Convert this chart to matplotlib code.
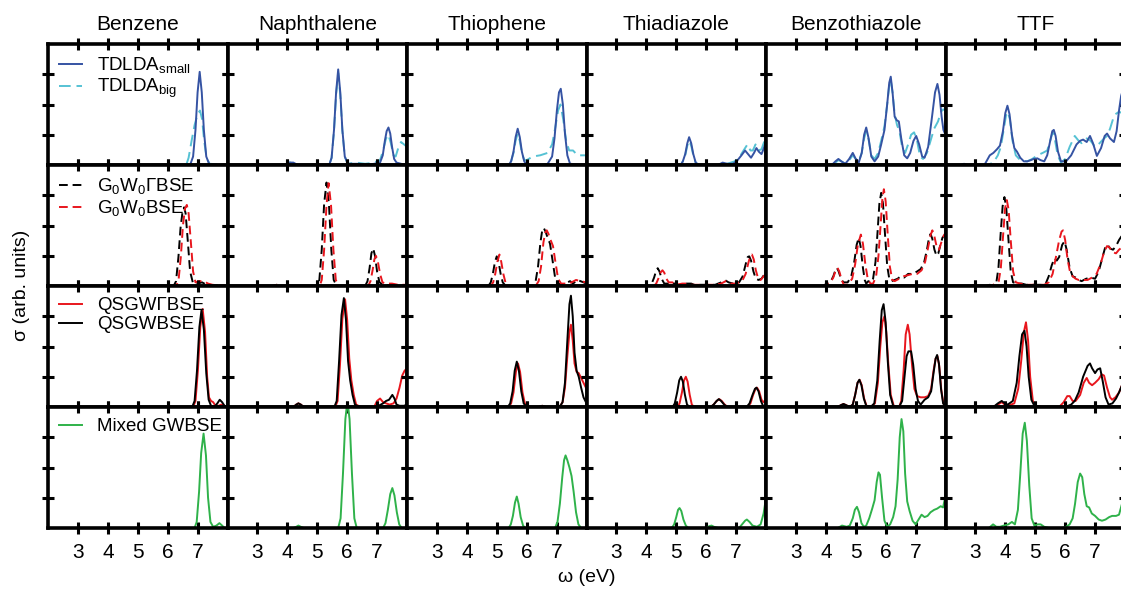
import matplotlib
matplotlib.use("Agg")
import matplotlib.pyplot as plt

plt.rcParams['font.family'] = ['Liberation Sans', 'DejaVu Sans']
plt.rcParams['mathtext.default'] = 'regular'

molecules = ["Benzene", "Naphthalene", "Thiophene", "Thiadiazole", "Benzothiazole", "TTF"]
xticks = [3, 4, 5, 6, 7]
yticks = [0.25, 0.5, 0.75]

# ---- row 1: TDLDA (small = solid blue, big = dashed cyan) ----
td_small_benzene = [(2,0),(6.75,0),(6.85,0.07),(6.93,0.29),(7.0,0.6),(7.07,0.77),(7.14,0.6),(7.21,0.29),(7.29,0.07),(7.4,0),(8,0)]
td_big_benzene = [(2,0),(6.62,0),(6.7,0.06),(6.8,0.2),(6.9,0.33),(7.0,0.42),(7.08,0.45),(7.15,0.38),(7.22,0.2),(7.3,0.06),(7.4,0.01),(8,0)]
td_small_naph = [(2,0),(3.9,0),(4.05,0.02),(4.2,0.02),(4.35,0),(5.4,0),(5.48,0.06),(5.56,0.29),(5.63,0.6),(5.7,0.79),(5.77,0.6),(5.84,0.29),(5.92,0.07),(6.02,0.01),(6.4,0.01),(6.6,0),(6.9,0.01),(7.1,0.02),(7.19,0.08),(7.26,0.2),(7.32,0.28),(7.38,0.31),(7.44,0.26),(7.5,0.15),(7.57,0.05),(7.65,0.02),(7.8,0.01),(8,0)]
td_big_naph = [(2,0),(3.9,0),(4.05,0.02),(4.2,0.02),(4.35,0),(5.4,0),(5.48,0.06),(5.56,0.28),(5.63,0.58),(5.7,0.76),(5.77,0.58),(5.84,0.28),(5.92,0.07),(6.02,0.01),(6.3,0.02),(6.6,0.01),(6.9,0.02),(7.1,0.04),(7.2,0.12),(7.3,0.22),(7.38,0.25),(7.46,0.18),(7.55,0.08),(7.62,0.07),(7.72,0.15),(7.8,0.19),(7.9,0.17),(8,0.15)]
td_small_thio = [(2,0),(5.4,0),(5.48,0.03),(5.56,0.11),(5.63,0.23),(5.7,0.3),(5.77,0.23),(5.84,0.11),(5.92,0.03),(6.0,0),(6.5,0),(6.7,0.01),(6.85,0.07),(6.93,0.22),(7.01,0.45),(7.08,0.6),(7.14,0.63),(7.21,0.5),(7.28,0.26),(7.36,0.08),(7.45,0.01),(8,0)]
td_big_thio = [(2,0),(5.4,0),(5.48,0.03),(5.56,0.1),(5.63,0.2),(5.7,0.26),(5.77,0.2),(5.84,0.1),(5.92,0.04),(6.0,0.04),(6.2,0.07),(6.45,0.08),(6.7,0.1),(6.85,0.17),(6.95,0.3),(7.05,0.45),(7.13,0.5),(7.22,0.38),(7.32,0.2),(7.42,0.12),(7.55,0.12),(7.7,0.08),(8,0.08)]
td_small_thia = [(2,0),(5.15,0),(5.22,0.03),(5.3,0.09),(5.37,0.18),(5.43,0.23),(5.5,0.18),(5.57,0.09),(5.65,0.02),(5.75,0),(6.4,0),(6.55,0.02),(6.7,0.01),(6.9,0.01),(7.05,0.04),(7.18,0.08),(7.3,0.12),(7.4,0.09),(7.5,0.06),(7.6,0.1),(7.68,0.14),(7.76,0.11),(7.85,0.09),(7.93,0.14),(8,0.2)]
td_big_thia = [(2,0),(5.15,0),(5.22,0.03),(5.3,0.08),(5.37,0.16),(5.43,0.2),(5.5,0.16),(5.57,0.08),(5.65,0.02),(5.75,0),(6.4,0),(6.55,0.02),(6.7,0.01),(6.95,0.03),(7.1,0.06),(7.25,0.12),(7.38,0.17),(7.48,0.12),(7.56,0.12),(7.65,0.17),(7.75,0.12),(7.85,0.13),(7.95,0.2),(8,0.22)]
td_small_bzt = [(2,0),(4.2,0),(4.32,0.03),(4.42,0.05),(4.52,0.03),(4.65,0.01),(4.78,0.05),(4.9,0.1),(5.0,0.05),(5.1,0.02),(5.2,0.1),(5.28,0.25),(5.35,0.31),(5.43,0.22),(5.52,0.07),(5.63,0.03),(5.75,0.07),(5.85,0.17),(5.96,0.29),(6.05,0.5),(6.12,0.68),(6.17,0.73),(6.23,0.6),(6.3,0.4),(6.37,0.37),(6.44,0.36),(6.52,0.22),(6.62,0.08),(6.72,0.055),(6.82,0.1),(6.93,0.2),(7.02,0.24),(7.12,0.17),(7.22,0.07),(7.3,0.06),(7.42,0.15),(7.55,0.4),(7.65,0.6),(7.73,0.67),(7.8,0.58),(7.87,0.4),(7.93,0.29),(8,0.25)]
td_big_bzt = [(2,0),(4.2,0),(4.32,0.02),(4.42,0.04),(4.52,0.03),(4.65,0.01),(4.78,0.04),(4.9,0.08),(5.0,0.05),(5.1,0.03),(5.2,0.1),(5.28,0.22),(5.35,0.28),(5.43,0.21),(5.52,0.08),(5.63,0.05),(5.75,0.1),(5.85,0.2),(5.96,0.32),(6.05,0.5),(6.12,0.66),(6.17,0.7),(6.23,0.6),(6.3,0.42),(6.38,0.33),(6.46,0.28),(6.55,0.15),(6.65,0.1),(6.75,0.17),(6.85,0.25),(6.95,0.27),(7.05,0.2),(7.15,0.07),(7.25,0.05),(7.38,0.1),(7.5,0.2),(7.62,0.3),(7.75,0.36),(7.85,0.44),(7.92,0.46),(8,0.45)]
td_small_ttf = [(2,0),(2.5,0),(2.62,0.01),(2.75,0),(3.3,0),(3.48,0.08),(3.6,0.1),(3.72,0.13),(3.82,0.16),(3.92,0.28),(4.0,0.43),(4.07,0.49),(4.14,0.42),(4.22,0.25),(4.3,0.14),(4.39,0.11),(4.5,0.06),(4.62,0.03),(4.73,0.03),(4.85,0.04),(4.95,0.05),(5.07,0.055),(5.18,0.04),(5.3,0.03),(5.4,0.08),(5.5,0.2),(5.57,0.28),(5.62,0.29),(5.68,0.24),(5.76,0.11),(5.86,0.03),(6.03,0.03),(6.2,0.08),(6.38,0.17),(6.5,0.2),(6.6,0.21),(6.72,0.19),(6.83,0.24),(6.93,0.18),(7.06,0.075),(7.2,0.14),(7.32,0.24),(7.4,0.26),(7.5,0.22),(7.63,0.19),(7.72,0.28),(7.8,0.45),(7.87,0.57),(7.95,0.64),(8,0.66)]
td_big_ttf = [(2,0),(3.4,0),(3.6,0.02),(3.75,0.08),(3.85,0.15),(3.95,0.3),(4.03,0.42),(4.08,0.44),(4.15,0.38),(4.24,0.2),(4.35,0.08),(4.5,0.04),(4.73,0.03),(4.9,0.05),(5.07,0.08),(5.25,0.1),(5.4,0.12),(5.5,0.2),(5.58,0.27),(5.65,0.22),(5.75,0.08),(5.86,0.02),(6.0,0.05),(6.15,0.15),(6.32,0.24),(6.45,0.2),(6.55,0.18),(6.72,0.22),(6.85,0.2),(7.0,0.15),(7.15,0.18),(7.3,0.22),(7.4,0.24),(7.5,0.3),(7.6,0.38),(7.68,0.42),(7.8,0.44),(7.9,0.43),(8,0.44)]

# ---- row 2: G0W0 (Gamma = dashed black, plain = dashed red) ----
g0_gam_benzene = [(2,0),(6.2,0),(6.28,0.04),(6.36,0.24),(6.43,0.48),(6.5,0.62),(6.55,0.65),(6.6,0.6),(6.67,0.38),(6.75,0.12),(6.85,0.02),(7.0,0.02),(7.15,0.03),(7.3,0.01),(8,0)]
g0_bse_benzene = [(2,0),(6.28,0),(6.36,0.04),(6.44,0.24),(6.51,0.5),(6.58,0.64),(6.64,0.67),(6.7,0.6),(6.77,0.38),(6.85,0.12),(6.93,0.03),(7.05,0.04),(7.2,0.04),(7.35,0.02),(7.5,0.01),(8,0)]
g0_gam_naph = [(2,0),(3.5,0),(3.65,0.01),(3.8,0),(5.0,0),(5.07,0.05),(5.15,0.3),(5.23,0.68),(5.31,0.855),(5.39,0.68),(5.47,0.3),(5.55,0.05),(5.65,0),(6.6,0),(6.68,0.04),(6.75,0.15),(6.81,0.27),(6.87,0.31),(6.93,0.25),(7.0,0.12),(7.08,0.03),(7.2,0.01),(8,0)]
g0_bse_naph = [(2,0),(3.5,0),(3.65,0.01),(3.8,0),(5.08,0),(5.15,0.05),(5.23,0.3),(5.31,0.67),(5.38,0.85),(5.46,0.67),(5.54,0.3),(5.62,0.05),(5.72,0),(6.7,0),(6.78,0.04),(6.85,0.13),(6.91,0.22),(6.96,0.25),(7.02,0.21),(7.1,0.1),(7.18,0.03),(7.3,0.02),(7.5,0.02),(7.7,0.01),(8,0.01)]
g0_gam_thio = [(2,0),(4.72,0),(4.8,0.03),(4.87,0.1),(4.94,0.2),(5.0,0.245),(5.06,0.2),(5.13,0.1),(5.2,0.03),(5.3,0),(6.2,0),(6.3,0.04),(6.38,0.16),(6.46,0.36),(6.52,0.46),(6.57,0.48),(6.63,0.45),(6.7,0.4),(6.78,0.35),(6.86,0.22),(6.95,0.07),(7.05,0.02),(7.2,0.01),(7.45,0.04),(7.55,0.02),(7.7,0.05),(7.8,0.04),(8,0.02)]
g0_bse_thio = [(2,0),(4.8,0),(4.88,0.03),(4.95,0.1),(5.02,0.2),(5.09,0.26),(5.15,0.2),(5.22,0.1),(5.29,0.03),(5.38,0),(6.3,0),(6.4,0.04),(6.48,0.16),(6.56,0.36),(6.62,0.44),(6.67,0.46),(6.73,0.43),(6.8,0.38),(6.88,0.33),(6.96,0.2),(7.05,0.06),(7.15,0.02),(7.35,0.02),(7.5,0.03),(7.65,0.05),(7.8,0.04),(8,0.03)]
g0_gam_thia = [(2,0),(4.1,0),(4.18,0.02),(4.26,0.07),(4.32,0.12),(4.38,0.147),(4.44,0.12),(4.51,0.06),(4.6,0.02),(4.75,0.02),(4.87,0.03),(5.0,0.01),(5.2,0.01),(5.35,0.02),(5.5,0.02),(5.6,0.01),(6.3,0.01),(6.5,0.03),(6.62,0.05),(6.75,0.03),(6.9,0.02),(7.1,0.03),(7.22,0.08),(7.32,0.18),(7.39,0.24),(7.44,0.245),(7.5,0.21),(7.58,0.12),(7.66,0.06),(7.75,0.05),(7.85,0.06),(7.93,0.09),(8,0.11)]
g0_bse_thia = [(2,0),(4.25,0),(4.33,0.02),(4.4,0.06),(4.47,0.11),(4.54,0.13),(4.6,0.11),(4.67,0.06),(4.75,0.03),(4.87,0.03),(5.0,0.01),(5.2,0.02),(5.35,0.02),(5.5,0.01),(6.3,0.01),(6.5,0.02),(6.65,0.04),(6.8,0.02),(7.0,0.02),(7.2,0.04),(7.32,0.1),(7.42,0.2),(7.48,0.25),(7.53,0.26),(7.59,0.22),(7.66,0.13),(7.74,0.06),(7.82,0.05),(7.92,0.08),(8,0.1)]
g0_gam_bzt = [(2,0),(3.9,0),(4.03,0.02),(4.15,0.03),(4.25,0.08),(4.32,0.13),(4.37,0.15),(4.43,0.12),(4.52,0.05),(4.6,0.03),(4.73,0.03),(4.85,0.08),(4.95,0.2),(5.03,0.34),(5.1,0.4),(5.16,0.33),(5.24,0.15),(5.3,0.05),(5.35,0.02),(5.42,0.04),(5.5,0.03),(5.58,0.06),(5.66,0.2),(5.73,0.45),(5.79,0.68),(5.85,0.77),(5.91,0.68),(5.98,0.42),(6.05,0.17),(6.12,0.06),(6.2,0.04),(6.3,0.05),(6.4,0.06),(6.5,0.08),(6.62,0.07),(6.75,0.1),(6.9,0.1),(7.05,0.12),(7.17,0.14),(7.28,0.19),(7.38,0.3),(7.45,0.4),(7.5,0.43),(7.56,0.39),(7.63,0.3),(7.7,0.25),(7.76,0.27),(7.84,0.35),(7.9,0.4),(8,0.43)]
g0_bse_bzt = [(2,0),(3.9,0),(4.03,0.01),(4.15,0.03),(4.25,0.07),(4.33,0.13),(4.39,0.15),(4.45,0.12),(4.53,0.05),(4.6,0.01),(4.73,0.01),(4.88,0.06),(4.98,0.18),(5.07,0.34),(5.17,0.425),(5.24,0.35),(5.32,0.18),(5.4,0.06),(5.49,0.02),(5.58,0.02),(5.68,0.08),(5.76,0.25),(5.83,0.5),(5.89,0.72),(5.94,0.8),(6.0,0.7),(6.07,0.42),(6.14,0.16),(6.22,0.05),(6.3,0.04),(6.45,0.06),(6.6,0.08),(6.75,0.09),(6.9,0.1),(7.05,0.1),(7.2,0.13),(7.32,0.2),(7.42,0.32),(7.5,0.42),(7.56,0.46),(7.62,0.42),(7.7,0.33),(7.78,0.3),(7.86,0.36),(7.93,0.41),(8,0.44)]
g0_gam_ttf = [(2,0),(2.8,0),(2.9,0.01),(3.0,0),(3.35,0),(3.48,0.01),(3.6,0),(3.7,0.03),(3.77,0.15),(3.84,0.42),(3.91,0.66),(3.97,0.735),(4.03,0.65),(4.1,0.4),(4.18,0.12),(4.26,0.03),(4.4,0.02),(4.55,0.02),(4.7,0.01),(5.0,0.01),(5.2,0.01),(5.35,0.02),(5.45,0.08),(5.55,0.17),(5.64,0.23),(5.72,0.21),(5.8,0.24),(5.9,0.34),(5.98,0.37),(6.05,0.3),(6.15,0.15),(6.25,0.08),(6.35,0.07),(6.45,0.05),(6.55,0.04),(6.7,0.06),(6.85,0.07),(7.0,0.06),(7.12,0.12),(7.25,0.24),(7.35,0.33),(7.42,0.34),(7.5,0.31),(7.6,0.3),(7.7,0.33),(7.8,0.38),(7.88,0.41),(8,0.4)]
g0_bse_ttf = [(2,0),(2.8,0),(2.9,0.01),(3.0,0),(3.45,0),(3.6,0.01),(3.78,0.04),(3.85,0.15),(3.92,0.4),(3.99,0.64),(4.05,0.71),(4.11,0.63),(4.18,0.38),(4.26,0.12),(4.35,0.03),(4.5,0.02),(4.7,0.01),(5.0,0.01),(5.3,0.01),(5.45,0.03),(5.58,0.1),(5.7,0.25),(5.8,0.38),(5.88,0.45),(5.93,0.46),(6.0,0.38),(6.08,0.22),(6.16,0.12),(6.25,0.08),(6.35,0.06),(6.45,0.05),(6.6,0.05),(6.75,0.05),(6.9,0.07),(7.05,0.1),(7.18,0.18),(7.3,0.28),(7.4,0.33),(7.48,0.32),(7.58,0.28),(7.7,0.27),(7.8,0.3),(7.9,0.32),(8,0.3)]

# ---- row 3: QSGW (Gamma = red, plain = black) ----
qs_gam_benzene = [(2,0),(6.85,0),(6.93,0.05),(7.01,0.3),(7.09,0.66),(7.17,0.81),(7.25,0.62),(7.32,0.25),(7.38,0.08),(7.45,0.05),(7.52,0.04),(7.6,0.01),(7.7,0.01),(7.8,0.02),(7.9,0.01),(8,0)]
qs_bse_benzene = [(2,0),(6.82,0),(6.9,0.05),(6.98,0.3),(7.06,0.66),(7.13,0.8),(7.21,0.64),(7.29,0.28),(7.37,0.06),(7.45,0.01),(7.56,0.0),(7.66,0.03),(7.74,0.06),(7.82,0.04),(7.9,0.01),(8,0)]
qs_gam_naph = [(2,0),(4.2,0),(4.3,0.02),(4.37,0.03),(4.45,0.02),(4.55,0),(5.6,0),(5.68,0.05),(5.76,0.35),(5.84,0.73),(5.93,0.89),(6.0,0.72),(6.07,0.4),(6.14,0.22),(6.22,0.1),(6.3,0.02),(6.45,0),(6.9,0),(7.0,0.05),(7.1,0.07),(7.2,0.04),(7.3,0.03),(7.42,0.02),(7.55,0.03),(7.65,0.07),(7.75,0.16),(7.84,0.26),(7.92,0.3),(8,0.32)]
qs_bse_naph = [(2,0),(4.2,0),(4.3,0.02),(4.37,0.03),(4.45,0.02),(4.55,0),(5.57,0),(5.65,0.05),(5.73,0.38),(5.81,0.76),(5.89,0.9),(5.96,0.72),(6.03,0.38),(6.1,0.22),(6.18,0.1),(6.26,0.02),(6.4,0),(6.9,0),(7.05,0.01),(7.2,0.03),(7.3,0.05),(7.4,0.06),(7.51,0.1),(7.58,0.07),(7.65,0.02),(7.75,0.01),(7.9,0.01),(8,0.02)]
qs_gam_thio = [(2,0),(5.4,0),(5.48,0.03),(5.56,0.12),(5.64,0.29),(5.71,0.36),(5.78,0.29),(5.86,0.12),(5.94,0.03),(6.05,0),(6.4,0),(6.52,0.01),(6.65,0),(7.1,0),(7.2,0.04),(7.28,0.16),(7.36,0.42),(7.43,0.62),(7.48,0.68),(7.54,0.55),(7.6,0.36),(7.67,0.29),(7.74,0.28),(7.82,0.24),(7.9,0.2),(8,0.15)]
qs_bse_thio = [(2,0),(5.37,0),(5.45,0.03),(5.53,0.13),(5.6,0.3),(5.67,0.375),(5.74,0.3),(5.82,0.13),(5.9,0.03),(6.0,0),(6.4,0),(6.52,0.01),(6.65,0),(7.1,0),(7.2,0.04),(7.28,0.2),(7.36,0.55),(7.43,0.85),(7.48,0.92),(7.54,0.75),(7.6,0.45),(7.67,0.3),(7.74,0.25),(7.82,0.16),(7.9,0.08),(8,0.03)]
qs_gam_thia = [(2,0),(5.04,0),(5.11,0.03),(5.19,0.12),(5.26,0.22),(5.32,0.25),(5.38,0.21),(5.45,0.1),(5.52,0.02),(5.6,0),(6.15,0),(6.25,0.02),(6.35,0.05),(6.44,0.065),(6.52,0.05),(6.62,0.02),(6.72,0),(7.38,0),(7.48,0.03),(7.57,0.1),(7.65,0.15),(7.7,0.16),(7.77,0.13),(7.85,0.06),(7.92,0.04),(8,0.06)]
qs_bse_thia = [(2,0),(4.88,0),(4.95,0.03),(5.03,0.12),(5.1,0.22),(5.16,0.25),(5.22,0.21),(5.29,0.1),(5.36,0.02),(5.45,0),(6.15,0),(6.25,0.02),(6.35,0.05),(6.42,0.065),(6.5,0.05),(6.6,0.02),(6.7,0),(7.35,0),(7.45,0.03),(7.55,0.1),(7.63,0.15),(7.68,0.16),(7.75,0.13),(7.83,0.05),(7.9,0.01),(8,0)]
qs_gam_bzt = [(2,0),(4.4,0),(4.5,0.015),(4.59,0.025),(4.68,0.015),(4.8,0),(4.9,0.02),(4.98,0.1),(5.06,0.2),(5.13,0.225),(5.2,0.18),(5.28,0.07),(5.36,0.01),(5.5,0),(5.64,0.03),(5.74,0.2),(5.82,0.5),(5.89,0.7),(5.96,0.75),(6.02,0.62),(6.09,0.35),(6.17,0.1),(6.27,0.01),(6.45,0),(6.52,0.05),(6.6,0.3),(6.67,0.6),(6.74,0.68),(6.8,0.6),(6.88,0.35),(6.96,0.15),(7.05,0.09),(7.17,0.08),(7.3,0.08),(7.42,0.09),(7.52,0.15),(7.6,0.3),(7.67,0.4),(7.73,0.42),(7.79,0.34),(7.86,0.14),(7.93,0.03),(8,0.01)]
qs_bse_bzt = [(2,0),(4.4,0),(4.5,0.015),(4.59,0.025),(4.68,0.015),(4.8,0),(4.9,0.02),(4.98,0.1),(5.06,0.2),(5.12,0.225),(5.19,0.18),(5.27,0.07),(5.35,0.01),(5.5,0),(5.62,0.03),(5.72,0.22),(5.8,0.55),(5.87,0.8),(5.93,0.85),(6.0,0.7),(6.07,0.38),(6.15,0.1),(6.25,0.01),(6.45,0),(6.55,0.05),(6.63,0.25),(6.7,0.42),(6.76,0.46),(6.85,0.46),(6.92,0.35),(7.0,0.15),(7.08,0.05),(7.17,0.02),(7.3,0.06),(7.42,0.08),(7.52,0.13),(7.6,0.28),(7.67,0.4),(7.72,0.43),(7.78,0.36),(7.85,0.15),(7.92,0.03),(8,0)]
qs_gam_ttf = [(2,0),(3.6,0),(3.75,0.02),(3.88,0.04),(3.98,0.02),(4.08,0.01),(4.3,0.03),(4.43,0.15),(4.53,0.38),(4.62,0.62),(4.69,0.7),(4.76,0.55),(4.83,0.25),(4.92,0.05),(5.02,0.01),(5.2,0),(5.8,0),(5.95,0.04),(6.07,0.09),(6.15,0.09),(6.25,0.05),(6.35,0.05),(6.5,0.1),(6.62,0.2),(6.72,0.24),(6.8,0.2),(6.9,0.18),(7.0,0.2),(7.12,0.23),(7.22,0.27),(7.3,0.26),(7.4,0.16),(7.5,0.08),(7.57,0.06),(7.68,0.08),(7.8,0.12),(7.9,0.18),(8,0.22)]
qs_bse_ttf = [(2,0),(3.6,0),(3.75,0.03),(3.88,0.05),(3.98,0.03),(4.08,0.02),(4.25,0.05),(4.38,0.2),(4.47,0.42),(4.56,0.6),(4.64,0.63),(4.71,0.5),(4.78,0.25),(4.87,0.06),(4.97,0.01),(5.2,0),(6.0,0),(6.1,0.01),(6.2,0.02),(6.32,0.05),(6.45,0.12),(6.6,0.25),(6.75,0.34),(6.83,0.36),(6.9,0.32),(7.0,0.28),(7.08,0.31),(7.17,0.32),(7.25,0.22),(7.35,0.08),(7.45,0.02),(7.58,0.03),(7.7,0.07),(7.8,0.12),(7.9,0.18),(8,0.22)]

# ---- row 4: Mixed GWBSE (green) ----
mixed_benzene = [(2,0),(6.9,0),(6.97,0.05),(7.05,0.3),(7.12,0.62),(7.2,0.78),(7.28,0.6),(7.35,0.25),(7.43,0.05),(7.52,0.01),(7.63,0.02),(7.73,0.04),(7.82,0.02),(7.9,0),(8,0)]
mixed_naph = [(2,0),(4.2,0),(4.3,0.01),(4.37,0.02),(4.45,0.01),(4.55,0),(5.7,0),(5.78,0.08),(5.86,0.45),(5.94,0.9),(6.01,1.05),(6.08,0.9),(6.16,0.45),(6.24,0.08),(6.32,0),(7.2,0),(7.28,0.04),(7.36,0.15),(7.44,0.28),(7.51,0.33),(7.58,0.27),(7.66,0.13),(7.74,0.03),(7.82,0),(8,0)]
mixed_thio = [(2,0),(5.4,0),(5.47,0.03),(5.54,0.1),(5.61,0.21),(5.67,0.26),(5.73,0.2),(5.8,0.09),(5.88,0.02),(5.95,0),(6.95,0),(7.03,0.05),(7.11,0.2),(7.19,0.42),(7.25,0.56),(7.3,0.6),(7.36,0.56),(7.43,0.5),(7.5,0.43),(7.57,0.3),(7.65,0.13),(7.73,0.03),(7.82,0),(8,0)]
mixed_thia = [(2,0),(4.85,0),(4.93,0.03),(5.0,0.09),(5.06,0.15),(5.11,0.165),(5.17,0.14),(5.24,0.07),(5.32,0.02),(5.4,0),(6.0,0),(6.1,0.015),(6.18,0.02),(6.26,0.01),(6.4,0),(7.1,0),(7.2,0.03),(7.3,0.06),(7.36,0.07),(7.45,0.05),(7.55,0.02),(7.7,0.01),(7.82,0.03),(7.92,0.12),(8,0.25)]
mixed_bzt = [(2,0),(4.4,0),(4.54,0.02),(4.62,0.015),(4.7,0.01),(4.8,0.02),(4.9,0.08),(4.97,0.15),(5.04,0.175),(5.11,0.13),(5.19,0.04),(5.27,0.01),(5.35,0.02),(5.45,0.08),(5.55,0.16),(5.63,0.23),(5.7,0.38),(5.76,0.46),(5.81,0.44),(5.88,0.25),(5.96,0.06),(6.05,0.01),(6.15,0.03),(6.25,0.09),(6.33,0.18),(6.4,0.4),(6.47,0.75),(6.53,0.9),(6.59,0.8),(6.65,0.45),(6.72,0.22),(6.8,0.14),(6.9,0.06),(7.0,0.03),(7.1,0.07),(7.2,0.11),(7.3,0.09),(7.4,0.1),(7.5,0.13),(7.62,0.15),(7.72,0.16),(7.84,0.18),(7.92,0.17),(8,0.27)]
mixed_ttf = [(2,0),(3.45,0),(3.59,0.03),(3.7,0.01),(3.82,0.01),(3.95,0.02),(4.1,0.03),(4.22,0.05),(4.32,0.03),(4.42,0.15),(4.5,0.45),(4.58,0.78),(4.65,0.87),(4.72,0.72),(4.8,0.35),(4.88,0.08),(4.97,0.02),(5.08,0.03),(5.18,0.03),(5.3,0.01),(5.45,0),(5.9,0),(6.03,0.01),(6.15,0.03),(6.25,0.08),(6.33,0.2),(6.42,0.38),(6.5,0.45),(6.57,0.42),(6.64,0.28),(6.72,0.18),(6.8,0.17),(6.89,0.12),(7.0,0.1),(7.12,0.07),(7.23,0.06),(7.35,0.07),(7.47,0.09),(7.57,0.1),(7.7,0.1),(7.8,0.11),(7.9,0.2),(8,0.28)]

blue = "#3553a3"
cyan = "#56c2d4"
red = "#e8161d"
green = "#2fb24a"

# each row: (curves per molecule, color, linestyle, legend label), in drawing order
rows = [
    [([td_big_benzene, td_big_naph, td_big_thio, td_big_thia, td_big_bzt, td_big_ttf], cyan, (0, (6, 3)), "TDLDA$_{big}$"),
     ([td_small_benzene, td_small_naph, td_small_thio, td_small_thia, td_small_bzt, td_small_ttf], blue, '-', "TDLDA$_{small}$")],
    [([g0_gam_benzene, g0_gam_naph, g0_gam_thio, g0_gam_thia, g0_gam_bzt, g0_gam_ttf], 'black', (0, (4.5, 2.5)), "G$_0$W$_0$ΓBSE"),
     ([g0_bse_benzene, g0_bse_naph, g0_bse_thio, g0_bse_thia, g0_bse_bzt, g0_bse_ttf], red, (0, (4.5, 2.5)), "G$_0$W$_0$BSE")],
    [([qs_gam_benzene, qs_gam_naph, qs_gam_thio, qs_gam_thia, qs_gam_bzt, qs_gam_ttf], red, '-', "QSGWΓBSE"),
     ([qs_bse_benzene, qs_bse_naph, qs_bse_thio, qs_bse_thia, qs_bse_bzt, qs_bse_ttf], 'black', '-', "QSGWBSE")],
    [([mixed_benzene, mixed_naph, mixed_thio, mixed_thia, mixed_bzt, mixed_ttf], green, '-', "Mixed GWBSE")],
]
# legend order as in the figure (small before big)
legend_order = [[1, 0], [0, 1], [0, 1], [0]]

W, H = 1121, 593
fig = plt.figure(figsize=(W / 100, H / 100), dpi=100)

left0, colw = 48, 179.5
top0, rowh = 44, 121

for r, row in enumerate(rows):
    for c, mol in enumerate(molecules):
        ax = fig.add_axes([(left0 + c * colw) / W, 1 - (top0 + (r + 1) * rowh) / H, colw / W, rowh / H])
        handles = []
        for curves, color, ls, label in row:
            pts = curves[c]
            xs = [p[0] for p in pts]
            ys = [p[1] for p in pts]
            ln, = ax.plot(xs, ys, color=color, linestyle=ls, lw=1.4, label=label)
            handles.append(ln)
        ax.set_xlim(2, 8)
        ax.set_ylim(0, 1)
        ax.set_xticks(xticks)
        ax.set_yticks(yticks)
        ax.tick_params(direction='inout', length=9, width=2.2, top=True, right=True,
                       labelleft=False, labelbottom=(r == 3), labelsize=15, pad=6)
        for sp in ax.spines.values():
            sp.set_linewidth(2.6)
        if r == 0:
            ax.set_title(mol, fontsize=15, pad=10)
        if c == 0:
            hs = [handles[i] for i in legend_order[r]]
            labs = [row[i][3] for i in legend_order[r]]
            ax.legend(hs, labs, loc='upper left', frameon=False, fontsize=13.5,
                      handlelength=1.2, handletextpad=0.8, labelspacing=0.1,
                      borderaxespad=0.3, borderpad=0.3)

fig.text(22 / W, 1 - 285 / H, "σ (arb. units)", rotation=90, ha='center', va='center', fontsize=14)
fig.text(587 / W, 1 - 578 / H, "ω (eV)", ha='center', va='center', fontsize=14)

fig.savefig("out.png", dpi=100)
